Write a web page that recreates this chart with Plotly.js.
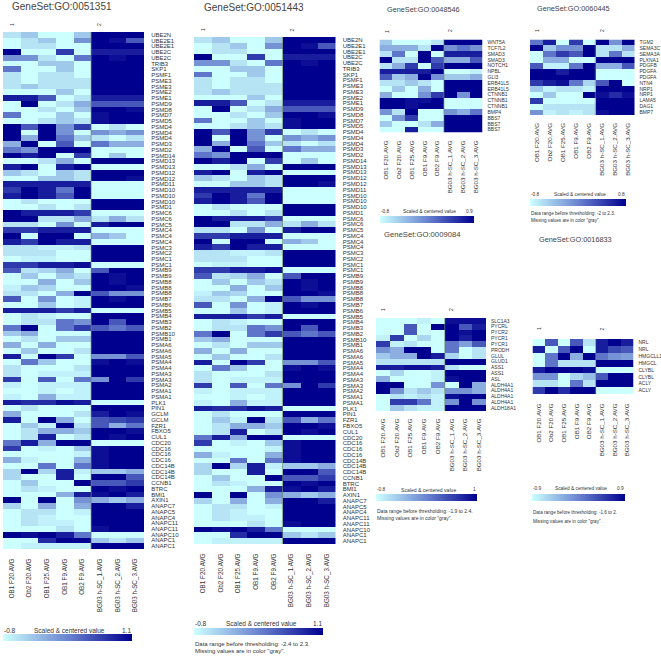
<!DOCTYPE html>
<html><head><meta charset="utf-8">
<script src="https://cdn.plot.ly/plotly-3.0.1.min.js"></script>
<style>html,body{margin:0;padding:0;background:#fff}</style></head>
<body><div id="chart" style="width:661px;height:663px"></div>
<script>
// Sample names
const samples = ["OB1 F20.AVG","Ob2 F20.AVG","OB1 F25.AVG","OB1 F9.AVG","OB2 F9.AVG","BG03 h-SC_1.AVG","BG03 h-SC_2.AVG","BG03 h-SC_3.AVG"];

// GO:0051351 (levels: 0 = lowest colour, 9 = highest colour)
const genes351 = ["UBE2N","UBE2E1","UBE2E1","UBE2C","UBE2C","TRIB3","SKP1","PSMF1","PSME3","PSME3","PSME2","PSME1","PSMD9","PSMD8","PSMD7","PSMD5","PSMD4","PSMD4","PSMD4","PSMD3","PSMD2","PSMD14","PSMD13","PSMD13","PSMD12","PSMD12","PSMD11","PSMD10","PSMD10","PSMD10","PSMD1","PSMC6","PSMC6","PSMC5","PSMC4","PSMC4","PSMC4","PSMC3","PSMC2","PSMC1","PSMC1","PSMB9","PSMB9","PSMB8","PSMB8","PSMB8","PSMB7","PSMB6","PSMB5","PSMB4","PSMB3","PSMB2","PSMB10","PSMB1","PSMA6","PSMA6","PSMA5","PSMA4","PSMA4","PSMA3","PSMA3","PSMA2","PSMA1","PSMA1","PLK1","PIN1","GCLM","GCLM","FZR1","FBXO5","CUL1","CDC20","CDC16","CDC16","CDC16","CDC14B","CDC14B","CDC14B","CCNB1","BTRC","BMI1","AXIN1","ANAPC7","ANAPC5","ANAPC4","ANAPC11","ANAPC11","ANAPC10","ANAPC1","ANAPC1"];
const values351 = [
[1,2,0,0,2,9,9,9],[0,1,2,0,4,9,8.5,6],[0,1,1,0,0,9,9,9],[9,0,0,7,0,8,8,8],[4,4,1,0,5,9,8.5,9],
[0,0,2,2,0,9,9,9],[5,0,0,2,0,9,9,9],[1,0,1,1,0,9,9,9],[1,0,1,1,1,9,9,9],[1,2,1,1,1,9,9,9],
[0,0,0,2,0,9,9,9],[8,8,6,0,1,8,8,8],[0,9,0,1,3,6,6,6],[0,0,1,0,2,9,9,8.5],[5,0,0,2,0,8.5,9,9],
[0,0,1,2,1,8.5,9,9],[9,6,9,4,7,0,1,0],[9,0,9,4,0,4,3,4],[9,3,9,5,2,1,0,1],[3,9,0,6,0,5,3,3],
[5,4,9,9,9,0,0,0],[9,8,9,0,7,0,2,0],[0,0,1,3,0,9,9,9],[8,9,0,8,9,0,0,0],[2,1,0,2,1,9,9,9],
[0,0,2,2,1,9,9,8.5],[8,8,8,8,8,0,0,0],[7,9,8,5,9,0,0,0],[8,9,8,6,9,0,0,0],[0,1,0,0,0,9,9,9],
[0,0,1,0,1,9,9,9],[9,8,8,8,7,0,0,0],[9,9,1,1,3,1,3,1],[1,1,0,4,0,8,9,9],[7,7,8,8,8,0,0,0],
[9,0,9,9,0,3,2,0],[8,7,9,8,8,0,0,0],[1,1,0.5,0.5,1,9,9,9],[1,1,1,0,0,9,9,9],[0,0.5,0.5,0,0,9,9,9],
[7,7,8,8,8.5,0,0,0],[6,1,1.5,3,0,6,9,9],[0,2,0,2,1,9,8.5,9],[0,0,3,0,2,9,8.5,9],[0.5,2,1.5,0,0,9,9,8.5],
[1,1,0,3,9,6,4,4],[6,0,4,0,0.5,9,8.5,9],[0,0,2,0,0.5,9,9,9],[8,8,8,7,8,0,0,0],[0,1,0.5,0,0,9,9,9],
[0,1,1,5,4,9,6,9],[5,9,0,5,7,6,5,6],[2,3,0,0,0,9,9,9],[0,1,0,2,2,9,9,9],[3,0,3,0,0,9,9,9],
[0,2,0,0,1,9,9,9],[8,0,9,7,0,4,4,6],[0,5,2,0,0,8.5,9,8.5],[1,0,0,0,1,9,9,9],[1,0,0.5,0.5,0.5,9,9,9],
[7,0,6,0,5,4,9,7],[0.5,0,0.5,0.5,0.5,9,9,9],[0,0,0.5,0,0.5,9,9,9],[0.5,0,3,0.5,0.5,9,9,9],[8,7.5,7.5,8.5,8,0,0,0],
[0,1,0,0,0,9,9,9],[3,0,0,0,1,8,9,8.5],[8,0,9,3,0,6,6.5,7],[0,2,0.5,9,1,6,3,5],[0,1,3,3,2,9,9,8.5],
[0,1,8,0,1,9,8.5,9],[5,8,3,9,9,0,0,0],[7,0,0.5,0,2,8.5,9,9],[0,0,0,0,0.5,8.5,9,9],[3,0.5,0,0,3,8.5,9,9],
[0,0,5,0,5,8.5,9,9],[1.5,9,1.5,8,0.5,2,2,3],[1.5,0,0,8,0,9,9,6],[0,2,0,0,9,6,6,7],[0,1,0.5,0,0,9,8.5,9],
[0,0,0,3,8,8.5,9,8],[9,0,9,0,4,3,2,3],[1.5,0,3,0,3,9,9,8],[0,1,1,0,0.5,9,9,9],[0,1,0.5,0,0,9,9,9],
[0,1,0.5,0.5,0,9,9,9],[0,0,0,1,0,8.5,9,9],[9,8.5,9,8,5,0,0,0],[0,0,7.5,9,9,2,1,2],[0,0.5,0.5,0.5,0.5,9,9,9]
];
// GO:0051443 has the same rows as GO:0051351 without the two GCLM rows
const genes443 = genes351.filter(g => g !== "GCLM");
const values443 = values351.filter((r,i) => genes351[i] !== "GCLM");

const genes546 = ["WNT5A","TCF7L2","SMAD3","SMAD3","NOTCH1","NPBL","GLI3","ERB41L5","ERB41L5","CTNNB1","CTNNB1","CTNNB1","BMP4","BBS7","BBS7","BBS7"];
const values546 = [
[2,0,0,0,1,9,9,9],[3,3,3,1,9,4,5,4],[1,5,0,9,0,8,8,8],[9,1,1,9,6,3,3,6],
[1,3,7,0,7,9,9,9],[8,8,8,8,9,0,0,0.5],[6,2,3,9,4,2,2,3],[1,1,2,1,0,9,9,9],
[0,2,0,3,0,9,9,9],[3,0,0,4,7,9,4,9],[9,9,8.5,8.5,9,0,0,0],[9,9,8.5,9,9,0,0,0],
[4,1,9,0,0,4,3,5],[0,4,7,0,0,9,9,9],[2,0,0,1,3,9,9,9],[0,0,8,0,0,9,9,9]
];

const genes445 = ["TGM2","SEMA3C","SEMA3A","PLXNA1","PDGFB","PDGFA","PDGFA","NTN4","NRP1","NRP1","LAMA5","DAG1","BMP7"];
const values445 = [
[5,8,0,7,0,9,4,9],[9,2,4,4,9,1,1,3],[0,5,7,6,9,1,5,1],[0,3,3,0,0,9,9,9],
[6,0.5,0.5,5,9,3,3,6],[9,9,8,9,9,0,0,0],[9,9,9,9,9,0,0,0],[7,8,8.5,5,1.5,6,9,0],
[2,0.5,1,1,0.5,9,9,9],[0,2,0,0,9,8.5,7.5,8.5],[7,0,0,0,0,9,9,9],[0,1,1,1,1,9,9,9],
[4,0.5,1,0.5,1,8.5,9,9]
];

const genes084 = ["SLC1A3","PYCRL","PYCR2","PYCR1","PYCR1","PRODH","GLUL","GLUD1","ASS1","ASS1","ASL","ALDH4A1","ALDH4A1","ALDH4A1","ALDH4A1","ALDH18A1"];
const values084 = [
[0,0,0,0.5,0,8.5,8.5,8.5],[0,0,6,0,9,9,6,8],[0,0,6,0,0,9,8.5,9],[0.5,7,0,1.5,0,9,8,9],
[7,0.5,1,0,0,5,3.5,6],[4,3,9,9,0,5,0,1],[2,3,3,9,8,1.5,0,1],[1,1,1,1,1,9,9,9],
[8,8,8.5,8.5,8,1,0,0],[0,1.5,0,0,0.5,9,9,9],[3,0,0,0,0.5,8.5,9,9],[9,9,0,0,4,0,9,3],
[9,4,1,2,1,4,4,3],[0,1,0.5,1,0.5,8.5,9,9],[0,7,7,5,0.5,4,9,4],[0,2,1,0.5,0.5,9,9,9]
];

const genes833 = ["NRL","NRL","HMGCLL1","HMGCL","CLYBL","CLYBL","ACLY","ACLY"];
const values833 = [
[0,6,0,6,1,8,9,8],[8,0,6,9,0,8,6.5,6],[0,5,9,3,9,5,4,3.5],[0,5,1,1,1,9,9,9],
[8,9,9,9,8.5,0,0,0],[4,4,0,1.5,2.5,6,9,9],[1,1,0,5,1,9,9,9],[7,9,7.5,9,9,0,0,0]
];

// Layout of each panel, in page pixels
const W = 661, H = 663;
const panels = [
 {title:"GeneSet:GO:0051351",genes:genes351,z:values351,box:[3,144,32,549],lab:6,xf:6.3,gapY:5,gapX:6,tx:[11,7],tf:10,c:[12,99,25],
  bar:[3,132,633.5,640.5],by:630,lo:"-0.8",hi:"1.1",bt:[33,6.5],bf:6.5,foot:null},
 {title:"GeneSet:GO:0051443",genes:genes443,z:values443,box:[194,335.5,37,544],lab:6,xf:6.3,gapY:5,gapX:6,tx:[203,7.5],tf:10,c:[203,291.5,30],
  bar:[194,323,627.5,634.5],by:623,lo:"-0.8",hi:"1.1",bt:[225,6.5],bf:6.5,foot:["Data range before thresholding: -2.4 to 2.3.",644,651,6]},
 {title:"GeneSet:GO:0048546",genes:genes546,z:values546,box:[379.5,482.5,39.5,132.5],lab:5,xf:6.2,gapY:3,gapX:4.5,tx:[386,10],tf:7.3,c:[387,450,31],
  bar:[380,474,216,223],by:211.5,lo:"-0.8",hi:"0.9",bt:[402,4.9],bf:4.8,foot:null},
 {title:"GeneSet:GO:0060445",genes:genes445,z:values445,box:[530,634.5,39.5,115],lab:5,xf:6.2,gapY:3,gapX:4.5,tx:[536,9],tf:7.3,c:[537,602,31],
  bar:[530,625.5,198.5,205],by:194,lo:"-0.8",hi:"0.8",bt:[553,4.8],bf:4.8,foot:["Data range before thresholding: -2 to 2.3.",214,221,4.6]},
 {title:"GeneSet:GO:0009084",genes:genes084,z:values084,box:[376,486,318,411],lab:5,xf:6.2,gapY:3,gapX:4,tx:[383,234],tf:7.7,c:[383,451,310],
  bar:[376,476.5,494,501],by:489.5,lo:"-0.8",hi:"1",bt:[400,5.1],bf:4.8,foot:["Data range before thresholding: -1.9 to 2.4.",510.5,517.5,5]},
 {title:"GeneSet:GO:0016833",genes:genes833,z:values833,box:[532.5,633.5,339,394],lab:5,xf:6.2,gapY:3,gapX:6,tx:[538,239],tf:7.3,c:[539,601.5,329],
  bar:[532,625,494,501],by:488.5,lo:"-0.9",hi:"0.9",bt:[554,4.8],bf:4.8,foot:["Data range before thresholding: -1.6 to 2.",512,521,4.6]}
];
const footNote = 'Missing values are in color "gray".';
const scale = [[0,"#ccffff"],[0.5,"#6a84d0"],[1,"#00008f"]];
const FONT = "Liberation Sans, Arial, sans-serif";
const TXT = "#333333";

const px = x => x / W, py = y => 1 - y / H;
const data = [], annotations = [], shapes = [];
const layout = {width:W,height:H,margin:{l:0,r:0,t:0,b:0,autoexpand:false},paper_bgcolor:"#fff",plot_bgcolor:"#fff",showlegend:false,annotations,shapes};
const note = (text,x,y,size,extra) => annotations.push(Object.assign({text,xref:"paper",yref:"paper",x:px(x),y:py(y),xanchor:"left",yanchor:"middle",showarrow:false,
  font:{family:FONT,size,color:TXT},borderpad:0},extra||{}));

panels.forEach((p,i) => {
  const s = i === 0 ? "" : String(i+1);
  const [x0,x1,y0,y1] = p.box;
  const [b0,b1,bt0,bt1] = p.bar;
  data.push({type:"heatmap",z:p.z,xaxis:"x"+s,yaxis:"y"+s,zmin:0,zmax:9,colorscale:scale,xgap:0,ygap:0,hoverinfo:"skip",
    colorbar:{orientation:"h",x:px(b0),xanchor:"left",y:py(bt0),yanchor:"top",xref:"paper",yref:"paper",len:b1-b0,lenmode:"pixels",thickness:bt1-bt0,thicknessmode:"pixels",
      outlinewidth:0,xpad:0,ypad:0,ticks:"",showticklabels:false}});
  layout["xaxis"+s] = {domain:[px(x0),px(x1)],anchor:"y"+s,range:[-0.5,7.5],tickmode:"array",tickvals:samples.map((_,k)=>k),ticktext:samples,tickangle:-90,
    ticks:"outside",ticklen:p.gapX,tickcolor:"rgba(0,0,0,0)",showgrid:false,zeroline:false,showline:false,tickfont:{family:FONT,size:p.xf,color:TXT}};
  layout["yaxis"+s] = {domain:[py(y1),py(y0)],anchor:"x"+s,side:"right",range:[p.genes.length-0.5,-0.5],tickmode:"array",tickvals:p.genes.map((_,k)=>k),ticktext:p.genes,
    ticks:"outside",ticklen:p.gapY,tickcolor:"rgba(0,0,0,0)",showgrid:false,zeroline:false,showline:false,tickfont:{family:FONT,size:p.lab,color:TXT}};
  shapes.push({type:"line",xref:"x"+s,yref:"paper",x0:4.5,x1:4.5,y0:py(y0),y1:py(y1),line:{color:"rgba(110,140,110,0.7)",width:1}});
  note(p.title,p.tx[0],p.tx[1],p.tf,{font:{family:FONT,size:p.tf,color:"#444444"}});
  note("1",p.c[0],p.c[2],5,{textangle:-90,xanchor:"center"});
  note("2",p.c[1],p.c[2],5,{textangle:-90,xanchor:"center"});
  note(p.lo,b0,p.by,p.bf);
  note("Scaled & centered value",p.bt[0],p.by,p.bt[1]);
  note(p.hi,b1,p.by,p.bf,{xanchor:"right"});
  if (p.foot) {
    note(p.foot[0],b0,p.foot[1],p.foot[3]);
    note(footNote,b0,p.foot[2],p.foot[3]);
  }
});
Plotly.newPlot("chart",data,layout,{displayModeBar:false,staticPlot:true});
</script></body></html>
